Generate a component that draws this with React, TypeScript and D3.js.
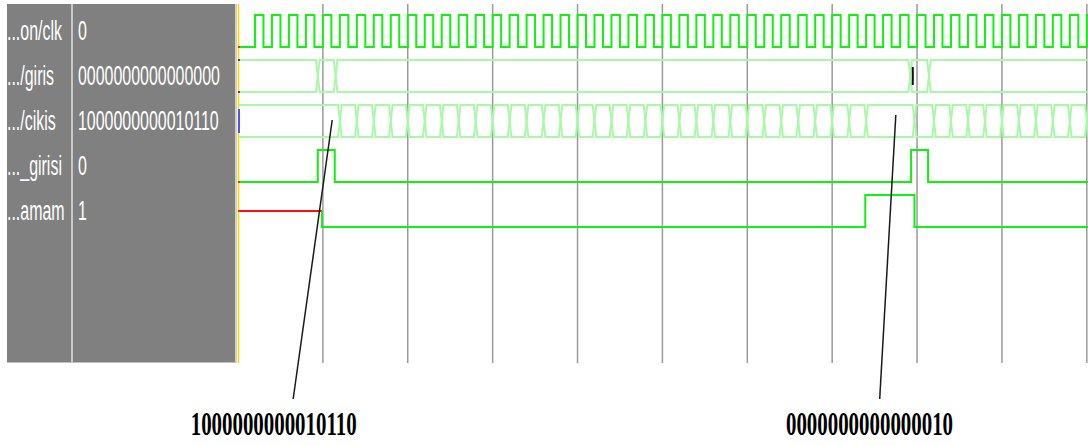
import React from 'react';
import * as d3 from 'd3';

// ---- data ----
const signalNames = ['...on/clk', '.../giris', '.../cikis', '..._girisi', '...amam'];
const cursorValues = ['0', '0000000000000000', '1000000000010110', '0', '1'];
const gridTimes = [100, 200, 300, 400, 500, 600, 700, 800, 900, 1000];
const clkRises = [
  20, 40, 60, 80, 100, 120, 140, 160, 180, 200, 220, 240, 260, 280, 300, 320, 340, 360, 380, 400,
  420, 440, 460, 480, 500, 520, 540, 560, 580, 600, 620, 640, 660, 680, 700, 720, 740, 760, 780, 800,
  820, 840, 860, 880, 900, 920, 940, 960, 980, 1000,
];
const clkHighTime = 10;
const girisChanges = [94, 115, 792, 814];
const cikisChanges = [
  120, 140, 160, 180, 200, 220, 240, 260, 280, 300, 320, 340, 360, 380, 400, 420, 440, 460, 480, 500,
  520, 540, 560, 580, 600, 620, 640, 660, 680, 700, 720, 740, 797, 820, 840, 860, 880, 900, 920, 940,
  960, 980, 1000,
];
const girisiTimes = [0, 94, 114, 793, 813];
const girisiLevels = [0, 1, 0, 1, 0];
const tamamTimes = [0, 99, 739, 797];
const tamamLevels: (number | 'X')[] = ['X', 0, 1, 0];
const calloutLabels = ['1000000000010110', '0000000000000010'];
const calloutTopTimes = [111, 775];
const calloutBottomTimes = [65, 756];
const calloutTextTimes = [42, 744];

// ---- layout ----
const W = 1088;
const H = 446;
const T_END = 1002;
const WAVE_TOP = 4;
const WAVE_BOTTOM = 363;
const HALF = 16;

const GREEN = '#12f012';
const BUS = '#a8f8a8';
const GRID = '#9a9a9a';

export default function App() {
  const x = d3.scaleLinear().domain([0, 1000]).range([238, 1086.8]);
  const rowY = d3.scaleLinear().domain([0, 4]).range([31, 211]);

  // clock path
  const clkPts: [number, number][] = [[0, 0]];
  clkRises.forEach((r) => {
    clkPts.push([r, 0], [r, 1], [r + clkHighTime, 1], [r + clkHighTime, 0]);
  });
  const levelY = (row: number, v: number) => rowY(row) + (v ? -HALF : HALF);
  const clkPath = d3.line<[number, number]>()
    .x((d) => x(Math.min(d[0], T_END + 10)))
    .y((d) => levelY(0, d[1]))(clkPts);

  // bus paths
  const busPath = (row: number, changes: number[]) => {
    const top = rowY(row) - HALF;
    const bot = rowY(row) + HALF;
    const mid = rowY(row);
    const d = 1.8;
    const bounds = [0, ...changes, T_END + 5];
    const parts: string[] = [];
    for (let i = 0; i < bounds.length - 1; i++) {
      const xa = x(bounds[i]);
      const xb = x(bounds[i + 1]);
      const p = d3.path();
      if (i === 0) {
        p.moveTo(xa + 1, top);
      } else {
        p.moveTo(xa, mid);
        p.lineTo(xa + d, top);
      }
      p.lineTo(xb - d, top);
      p.lineTo(xb, mid);
      p.lineTo(xb - d, bot);
      if (i === 0) p.lineTo(xa + 1, bot);
      else {
        p.lineTo(xa + d, bot);
        p.closePath();
      }
      parts.push(p.toString());
    }
    return parts;
  };

  const stepPath = (row: number, times: number[], levels: number[]) => {
    const pts: [number, number][] = [];
    times.forEach((t, i) => {
      if (i > 0) pts.push([t, levels[i - 1]]);
      pts.push([t, levels[i]]);
    });
    pts.push([T_END + 5, levels[levels.length - 1]]);
    return d3.line<[number, number]>().x((d) => x(d[0])).y((d) => levelY(row, d[1]))(pts);
  };

  // tamam: X segment in red, rest green
  const tamamRow = 4;
  const xEnd = tamamTimes[1];
  const tamamRed = `M${x(0) + 1},${rowY(tamamRow)}L${x(xEnd)},${rowY(tamamRow)}`;
  const tamamGreenPts: [number, number][] = [[xEnd, rowY(tamamRow)]];
  for (let i = 1; i < tamamTimes.length; i++) {
    const v = tamamLevels[i] as number;
    tamamGreenPts.push([tamamTimes[i], levelY(tamamRow, v)]);
    const tNext = i + 1 < tamamTimes.length ? tamamTimes[i + 1] : T_END + 5;
    tamamGreenPts.push([tNext, levelY(tamamRow, v)]);
  }
  const tamamGreen = d3.line<[number, number]>().x((d) => x(d[0])).y((d) => d[1])(tamamGreenPts);

  const calloutTopY = [120, 115];
  const calloutBottomY = [399, 399];

  return (
    <svg width={W} height={H} style={{ position: 'absolute', left: 0, top: 0, background: '#fff' }}>
      <defs>
        <clipPath id="wave">
          <rect x={239} y={0} width={W - 239} height={H} />
        </clipPath>
      </defs>
      {/* left panel */}
      <rect x={7} y={WAVE_TOP} width={229} height={WAVE_BOTTOM - WAVE_TOP} fill="#808080" />
      <line x1={72} x2={72} y1={WAVE_TOP} y2={WAVE_BOTTOM} stroke="#c8c8c8" strokeWidth={2} />
      <line x1={236} x2={236} y1={WAVE_TOP} y2={WAVE_BOTTOM} stroke="#d0d0d0" strokeWidth={2} />
      <line x1={7} x2={236} y1={WAVE_BOTTOM - 0.5} y2={WAVE_BOTTOM - 0.5} stroke="#c0c0c0" strokeWidth={1} />
      <line x1={238.5} x2={238.5} y1={WAVE_TOP} y2={WAVE_BOTTOM} stroke="#ffd800" strokeWidth={1.6} />
      {signalNames.map((n, i) => (
        <text
          key={n}
          transform={`translate(7,${rowY(i) + 9}) scale(0.57,1)`}
          fontFamily="Liberation Sans, Arial, sans-serif"
          fontSize={28}
          fill="#ffffff"
        >
          {n}
        </text>
      ))}
      {cursorValues.map((v, i) => (
        <text
          key={i}
          transform={`translate(78,${rowY(i) + 9}) scale(0.57,1)`}
          fontFamily="Liberation Sans, Arial, sans-serif"
          fontSize={28}
          fill="#ffffff"
        >
          {v}
        </text>
      ))}

      {/* grid */}
      {gridTimes.map((t) => (
        <line key={t} x1={x(t)} x2={x(t)} y1={WAVE_TOP} y2={WAVE_BOTTOM} stroke={GRID} strokeWidth={1.5} />
      ))}

      <g clipPath="url(#wave)">
        <path d={clkPath || ''} fill="none" stroke={GREEN} strokeWidth={2} />
        {busPath(1, girisChanges).map((d, i) => (
          <path key={'g' + i} d={d} fill="none" stroke={BUS} strokeWidth={2} />
        ))}
        {busPath(2, cikisChanges).map((d, i) => (
          <path key={'c' + i} d={d} fill="none" stroke={BUS} strokeWidth={2} />
        ))}
        <path d={stepPath(3, girisiTimes, girisiLevels) || ''} fill="none" stroke={GREEN} strokeWidth={2} />
        <path d={tamamRed} fill="none" stroke="#ff1010" strokeWidth={2} />
        <path d={tamamGreen || ''} fill="none" stroke={GREEN} strokeWidth={2} />
      </g>

      {/* start markers */}
      <rect x={238} y={levelY(0, 0) - 1} width={2} height={2} fill="#ff2020" />
      <rect x={238} y={rowY(1) - HALF - 1} width={2} height={2} fill="#3030ff" />
      <rect x={238} y={rowY(1) + HALF - 1} width={2} height={2} fill="#3030ff" />
      <rect x={238} y={rowY(2) - HALF + 4} width={2} height={2 * HALF - 8} fill="#5050ff" />
      <rect x={238} y={levelY(3, 0) - 1} width={2} height={2} fill="#ff2020" />
      <rect x={238} y={rowY(4) - 1} width={2} height={2} fill="#ff2020" />

      {/* callouts */}
      {calloutLabels.map((lbl, i) => (
        <g key={lbl}>
          <line
            x1={x(calloutTopTimes[i])}
            y1={calloutTopY[i]}
            x2={x(calloutBottomTimes[i])}
            y2={calloutBottomY[i]}
            stroke="#1a1a1a"
            strokeWidth={1.5}
          />
          <text
            transform={`translate(${x(calloutTextTimes[i])},435) scale(0.633,1)`}
            textAnchor="middle"
            fontFamily="Liberation Serif, Times New Roman, serif"
            fontWeight="bold"
            fontSize={33}
            fill="#000"
          >
            {lbl}
          </text>
        </g>
      ))}
      <line x1={x(795)} x2={x(795)} y1={67} y2={85} stroke="#111" strokeWidth={2} />
    </svg>
  );
}
